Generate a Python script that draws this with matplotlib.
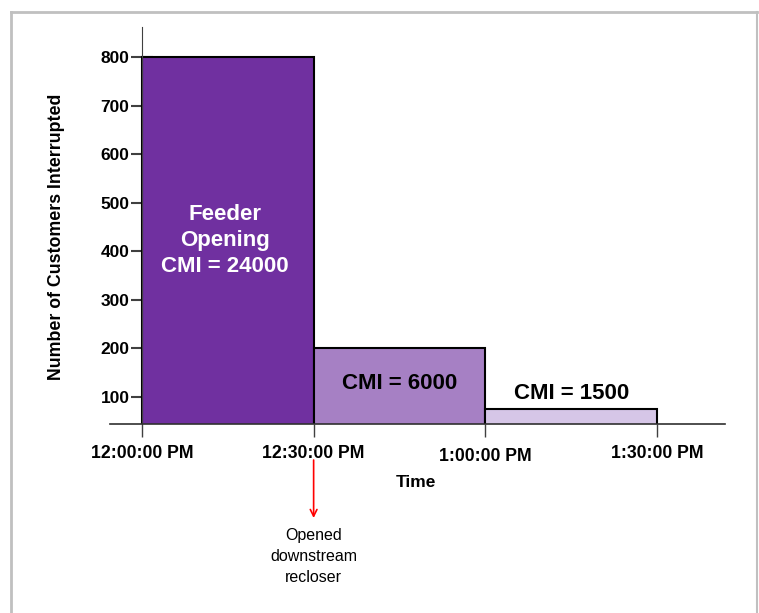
import matplotlib
matplotlib.use("Agg")
import matplotlib.pyplot as plt
from matplotlib.lines import Line2D
from matplotlib.transforms import ScaledTranslation

# data
starts = [0, 30, 60]          # minutes after 12:00
widths = [30, 30, 30]
customers = [800, 200, 75]
colors = ["#7030A0", "#A680C4", "#D6C6E7"]
labels = ["Feeder\nOpening\nCMI = 24000", "CMI = 6000", "CMI = 1500"]
tick_pos = [0, 30, 60, 90]
tick_labels = ["12:00:00 PM", "12:30:00 PM", "1:00:00 PM", "1:30:00 PM"]
yticks = [100, 200, 300, 400, 500, 600, 700, 800]

plt.rcParams['font.family'] = ['Liberation Sans', 'DejaVu Sans']

W, H = 759, 613
fig = plt.figure(figsize=(W / 100, H / 100), dpi=100)
ax = fig.add_axes([110 / W, (H - 424) / H, (725 - 110) / W, (424 - 27) / H])

ax.bar(starts, customers, width=widths, align='edge', color=colors,
       edgecolor='black', linewidth=1.5, zorder=2)

ax.set_xlim(-5.59, 101.9)
ax.set_ylim(44.4, 862)

for s in ['top', 'right']:
    ax.spines[s].set_visible(False)
ax.spines['left'].set_position(('data', 0))
ax.spines['left'].set_color('#404040')
ax.spines['bottom'].set_color('#303030')
ax.spines['bottom'].set_linewidth(1.2)
ax.spines['bottom'].set_zorder(3)

ax.set_yticks(yticks)
ax.set_yticklabels([str(v) for v in yticks], fontsize=12.5, fontweight='bold')
ax.set_xticks(tick_pos)
ax.set_xticklabels(tick_labels, fontsize=12.7, fontweight='bold')
ax.tick_params(axis='y', direction='inout', length=16, width=1.5,
               color='#404040', pad=1)
ax.tick_params(axis='x', direction='out', length=9, width=1,
               color='#404040', pad=6)
# the 1:00 label sits a little lower in the original
lab = ax.get_xticklabels()[2]
lab.set_transform(lab.get_transform() + ScaledTranslation(0, -3 / 100, fig.dpi_scale_trans))

ax.set_ylabel("Number of Customers Interrupted", fontsize=12.8, fontweight='bold')
ax.yaxis.set_label_coords(-0.073, 0.471)
ax.set_xlabel("Time", fontsize=12.5, fontweight='bold')
ax.xaxis.set_label_coords(0.4976, -0.1486)
ax.xaxis.label.set_va('center')

# bar annotations
ax.text(starts[0] + widths[0] / 2 - 0.5, 423, labels[0], color='white', fontsize=16,
        fontweight='bold', ha='center', va='center', linespacing=1.32, zorder=4)
ax.text(starts[1] + widths[1] / 2, 127, labels[1], color='black', fontsize=16,
        fontweight='bold', ha='center', va='center', zorder=4)
ax.text(75.1, 108, labels[2], color='black', fontsize=16,
        fontweight='bold', ha='center', va='center', zorder=4)

# arrow and note under the 12:30 tick
tr = ax.get_xaxis_transform()
ax.annotate("", xy=(30, -0.2368), xytext=(30, -0.0907), xycoords=tr,
            textcoords=tr,
            arrowprops=dict(arrowstyle='->', color='red', lw=1.2,
                            mutation_scale=12, shrinkA=0, shrinkB=0))
ax.text(30, -0.335, "Opened\ndownstream\nrecloser", transform=tr,
        ha='center', va='center', fontsize=11.5, linespacing=1.5)

# grey frame around the figure
fc = '#C0C0C0'
fig.add_artist(Line2D([11 / W, 11 / W], [0, 1 - 12 / H], transform=fig.transFigure,
                      color=fc, lw=2))
fig.add_artist(Line2D([11 / W, 757 / W], [1 - 12 / H, 1 - 12 / H],
                      transform=fig.transFigure, color=fc, lw=2))
fig.add_artist(Line2D([757 / W, 757 / W], [0, 1 - 12 / H], transform=fig.transFigure,
                      color=fc, lw=1.5))

fig.savefig("out.png", dpi=100)
